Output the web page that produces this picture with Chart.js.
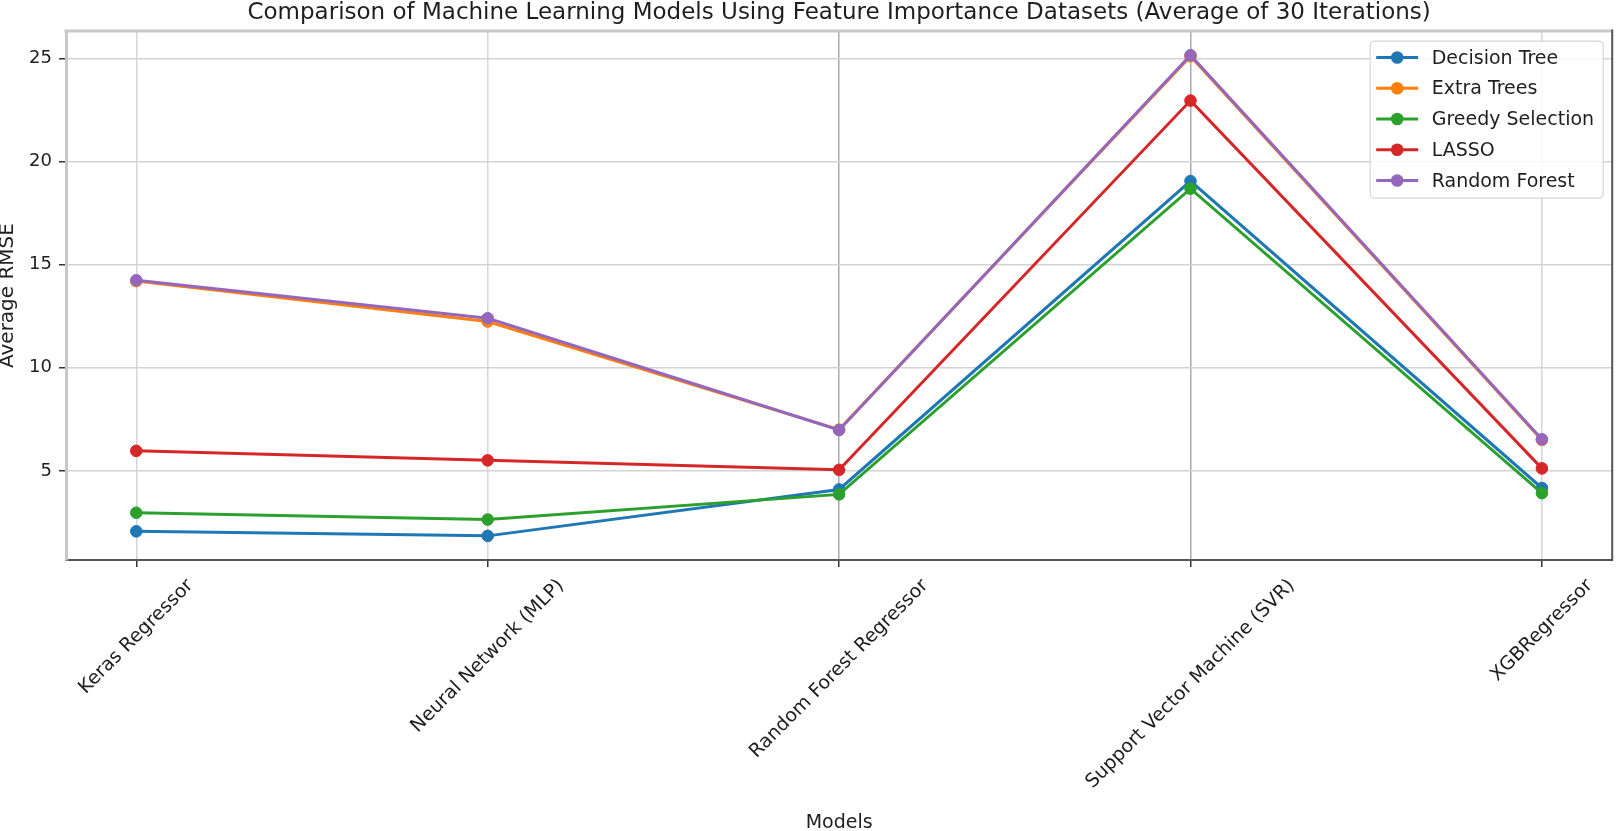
<!DOCTYPE html>
<html><head><meta charset="utf-8">
<script src="https://cdn.jsdelivr.net/npm/chart.js@4.4.1/dist/chart.umd.min.js"></script>
<style>html,body{margin:0;padding:0;background:#fff;overflow:hidden}#wrap{width:1619px;height:831px}</style>
</head><body><div id="wrap"><canvas id="c" width="1619" height="831"></canvas></div>
<script>
const titleText = 'Comparison of Machine Learning Models Using Feature Importance Datasets (Average of 30 Iterations)';
const categories = ['Keras Regressor', 'Neural Network (MLP)', 'Random Forest Regressor', 'Support Vector Machine (SVR)', 'XGBRegressor'];
const seriesNames = ['Decision Tree', 'Extra Trees', 'Greedy Selection', 'LASSO', 'Random Forest'];
const decisionTree    = [2.07, 1.85, 4.10, 19.05, 4.17];
const extraTrees      = [14.20, 12.24, 7.00, 25.10, 6.50];
const greedySelection = [2.97, 2.64, 3.86, 18.68, 3.92];
const lasso           = [5.97, 5.51, 5.05, 22.95, 5.12];
const randomForest    = [14.24, 12.40, 6.98, 25.15, 6.53];
const yTicks = [5, 10, 15, 20, 25];
const colors = ['#1f77b4', '#ff7f0e', '#2ca02c', '#d62728', '#9467bd'];

const FONT = '"DejaVu Sans", sans-serif';
const TEXT = '#1e1e1e';
const seriesValues = [decisionTree, extraTrees, greedySelection, lasso, randomForest];

const datasets = seriesNames.map((name, i) => ({
  label: name,
  data: seriesValues[i].map((v, j) => ({x: j, y: v})),
  borderColor: colors[i],
  backgroundColor: colors[i],
  pointBackgroundColor: colors[i],
  pointBorderColor: colors[i],
  borderWidth: 3,
  pointRadius: 5.8,
  pointBorderWidth: 1,
  pointHoverRadius: 5.8,
  tension: 0,
  fill: false,
  clip: false,
  order: seriesNames.length - 1 - i
}));

const extras = {
  id: 'extras',
  afterDraw(chart) {
    const {ctx, chartArea: a, scales: {x}} = chart;
    ctx.save();
    // top & right spines
    ctx.strokeStyle = '#c8c8c8'; ctx.lineWidth = 3;
    ctx.beginPath(); ctx.moveTo(a.left - 1.5, a.top); ctx.lineTo(a.right, a.top); ctx.stroke();
    ctx.strokeStyle = '#555'; ctx.lineWidth = 2;
    ctx.beginPath(); ctx.moveTo(a.right, a.top - 1.5); ctx.lineTo(a.right, a.bottom + 1); ctx.stroke();

    // rotated category labels (centred under each tick)
    ctx.font = '19px ' + FONT;
    ctx.fillStyle = TEXT;
    ctx.textAlign = 'center';
    ctx.textBaseline = 'middle';
    const th = 22;
    categories.forEach((c, i) => {
      const w = ctx.measureText(c).width;
      const side = (w + th) / Math.SQRT2;
      const cx = x.getPixelForValue(i);
      const cy = a.bottom + 15 + side / 2;
      ctx.save(); ctx.translate(cx, cy); ctx.rotate(-Math.PI / 4); ctx.fillText(c, 0, 0); ctx.restore();
    });

    // legend
    const bx = a.right - 242, by = a.top + 10, bw = 233, bh = 157;
    ctx.fillStyle = 'rgba(255,255,255,0.85)';
    ctx.strokeStyle = '#d6d6d6'; ctx.lineWidth = 1.2;
    ctx.beginPath();
    ctx.roundRect(bx, by, bw, bh, 4);
    ctx.fill(); ctx.stroke();
    ctx.font = '19px ' + FONT;
    ctx.textAlign = 'left';
    ctx.textBaseline = 'middle';
    seriesNames.forEach((n, i) => {
      const yy = by + 16.5 + i * 30.75;
      ctx.strokeStyle = colors[i]; ctx.lineWidth = 3;
      ctx.beginPath(); ctx.moveTo(bx + 6, yy); ctx.lineTo(bx + 48, yy); ctx.stroke();
      ctx.fillStyle = colors[i];
      ctx.beginPath(); ctx.arc(bx + 27, yy, 6.3, 0, Math.PI * 2); ctx.fill();
      ctx.fillStyle = TEXT;
      ctx.fillText(n, bx + 61.5, yy + 1);
    });
    ctx.restore();
  }
};

new Chart(document.getElementById('c'), {
  type: 'line',
  data: {datasets},
  options: {
    responsive: false,
    animation: false,
    devicePixelRatio: 1,
    layout: {padding: {left: 0, right: 5, top: 0, bottom: 0}},
    events: [],
    plugins: {
      legend: {display: false},
      tooltip: {enabled: false},
      title: {
        display: true, text: titleText, fullSize: false,
        font: {family: FONT, size: 23, weight: 'normal', lineHeight: 1.09},
        color: TEXT, padding: {top: 0, bottom: 6}
      }
    },
    scales: {
      x: {
        type: 'linear', min: -0.2, max: 4.2,
        afterBuildTicks: s => { s.ticks = categories.map((c, i) => ({value: i})); },
        afterFit: s => { s.height = 271; },
        ticks: {display: false},
        grid: {
          color: ctx => (ctx.index === 2 || ctx.index === 3) ? '#a9a9a9' : '#d6d6d6',
          lineWidth: 1.5, drawTicks: true, tickLength: 7, tickColor: '#333', tickWidth: 1.5
        },
        border: {color: '#555', width: 2},
        title: {display: true, text: 'Models', color: TEXT, padding: 0,
                font: {family: FONT, size: 19, lineHeight: 0.85}}
      },
      y: {
        min: 0.68, max: 26.32,
        afterBuildTicks: s => { s.ticks = yTicks.map(v => ({value: v})); },
        afterFit: s => { s.width = 66; },
        ticks: {font: {family: FONT, size: 18}, color: TEXT, padding: 7},
        grid: {color: '#d3d3d3', lineWidth: 1.5, tickLength: 7, tickColor: '#333', tickWidth: 1.5},
        border: {color: '#c8c8c8', width: 3},
        title: {display: true, text: 'Average RMSE', color: TEXT, padding: 0,
                font: {family: FONT, size: 20, lineHeight: 0.8}}
      }
    }
  },
  plugins: [extras]
});
</script>
</body></html>
